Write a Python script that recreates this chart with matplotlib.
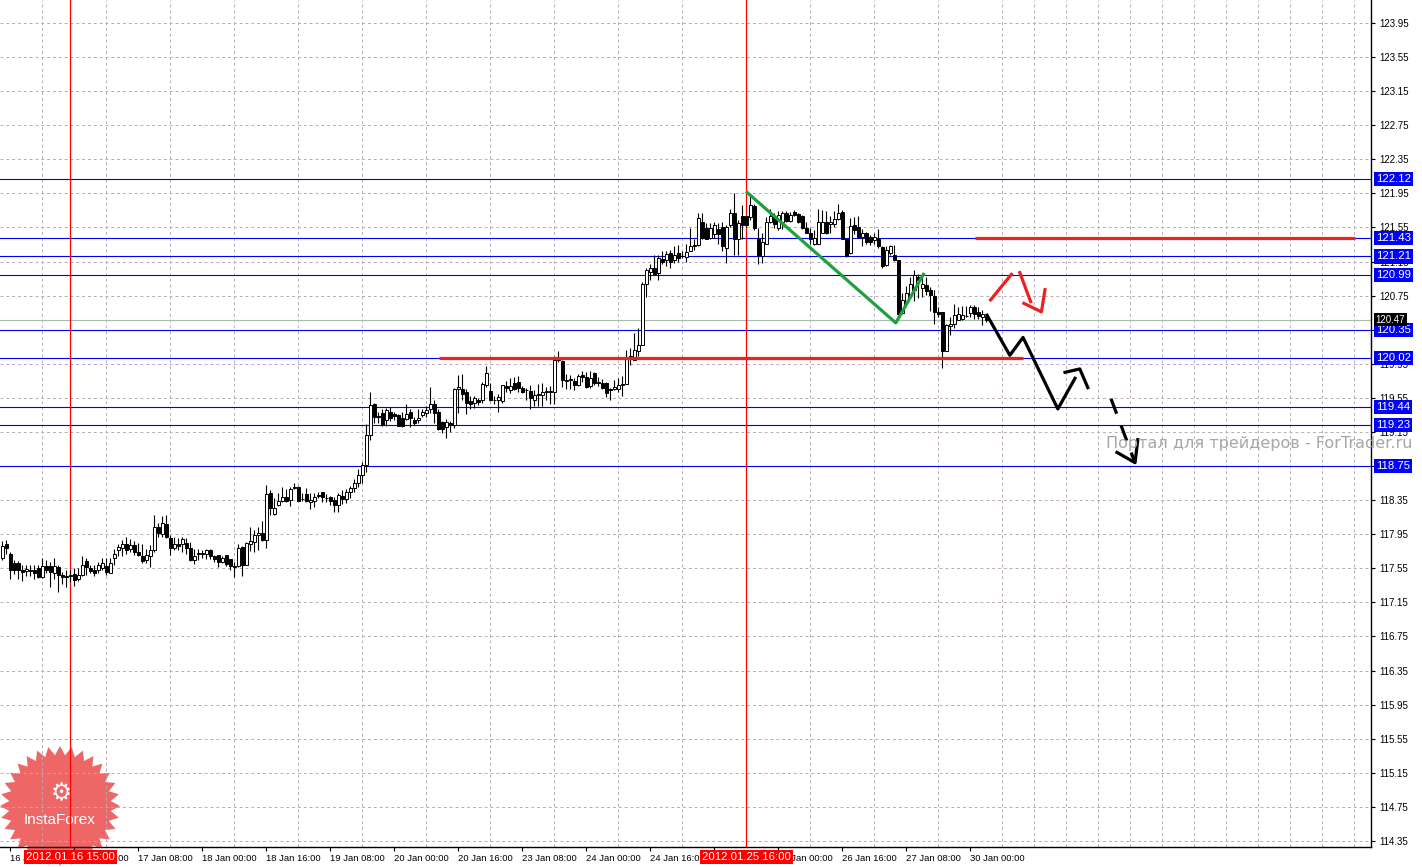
import numpy as np
import matplotlib
matplotlib.use('Agg')
import matplotlib.pyplot as plt
import matplotlib.transforms as mtransforms
from matplotlib.patches import Polygon

# H1 candles, bar 0 .. 246
opens = [
    117.67, 117.83, 117.72, 117.61, 117.61, 117.53, 117.52, 117.53, 117.53, 117.55,
    117.45, 117.58, 117.58, 117.50, 117.57, 117.47, 117.46, 117.46, 117.48, 117.42,
    117.47, 117.64, 117.55, 117.53, 117.53, 117.55, 117.58, 117.50, 117.67, 117.77,
    117.79, 117.84, 117.78, 117.82, 117.74, 117.69, 117.65, 117.70, 117.76, 118.03,
    117.95, 118.07, 117.91, 117.79, 117.84, 117.84, 117.85, 117.79, 117.65, 117.72,
    117.72, 117.72, 117.76, 117.70, 117.71, 117.62, 117.71, 117.66, 117.57, 117.58,
    117.80, 117.59, 117.84, 117.86, 117.94, 117.96, 117.88, 118.43, 118.19, 118.29,
    118.34, 118.39, 118.35, 118.49, 118.50, 118.36, 118.42, 118.33, 118.34, 118.40,
    118.44, 118.37, 118.39, 118.35, 118.29, 118.40, 118.36, 118.45, 118.49, 118.55,
    118.64, 118.76, 119.12, 119.48, 119.34, 119.37, 119.29, 119.38, 119.36, 119.35,
    119.31, 119.30, 119.39, 119.29, 119.29, 119.35, 119.37, 119.42, 119.48, 119.38,
    119.27, 119.21, 119.25, 119.23, 119.66, 119.65, 119.62, 119.51, 119.49, 119.52,
    119.52, 119.70, 119.63, 119.53, 119.53, 119.51, 119.69, 119.64, 119.72, 119.74,
    119.67, 119.64, 119.63, 119.53, 119.58, 119.58, 119.62, 119.62, 119.62, 120.00,
    119.98, 119.75, 119.76, 119.75, 119.70, 119.82, 119.79, 119.69, 119.84, 119.74,
    119.73, 119.73, 119.66, 119.66, 119.66, 119.70, 119.71, 120.01, 119.99, 120.10,
    120.17, 120.89, 121.03, 121.07, 121.02, 121.18, 121.17, 121.25, 121.17, 121.25,
    121.22, 121.20, 121.27, 121.33, 121.34, 121.61, 121.54, 121.43, 121.47, 121.53,
    121.56, 121.31, 121.58, 121.72, 121.42, 121.68, 121.68, 121.67, 121.80, 121.42,
    121.22, 121.36, 121.61, 121.67, 121.54, 121.62, 121.72, 121.63, 121.73, 121.71,
    121.68, 121.54, 121.49, 121.36, 121.36, 121.48, 121.61, 121.59, 121.59, 121.65,
    121.73, 121.42, 121.25, 121.58, 121.55, 121.44, 121.48, 121.44, 121.40, 121.41,
    121.32, 121.11, 121.25, 121.23, 121.17, 120.55, 120.67, 120.76, 120.82, 120.97,
    120.84, 120.88, 120.82, 120.75, 120.56, 120.56, 120.10, 120.39, 120.42, 120.47,
    120.48, 120.51, 120.55, 120.62, 120.56, 120.50, 120.51,
]
highs = [
    117.87, 117.88, 117.74, 117.65, 117.63, 117.59, 117.59, 117.59, 117.59, 117.59,
    117.67, 117.65, 117.62, 117.67, 117.59, 117.51, 117.53, 117.53, 117.55, 117.55,
    117.70, 117.67, 117.59, 117.59, 117.62, 117.67, 117.67, 117.67, 117.78, 117.84,
    117.88, 117.92, 117.89, 117.87, 117.85, 117.83, 117.78, 117.82, 118.17, 118.08,
    118.16, 118.17, 117.94, 117.92, 117.90, 117.92, 117.90, 117.86, 117.78, 117.78,
    117.76, 117.78, 117.78, 117.71, 117.71, 117.70, 117.71, 117.66, 117.62, 117.84,
    117.81, 117.86, 118.04, 118.00, 118.04, 118.10, 118.53, 118.47, 118.37, 118.43,
    118.50, 118.48, 118.50, 118.55, 118.52, 118.43, 118.49, 118.43, 118.43, 118.44,
    118.45, 118.42, 118.40, 118.39, 118.43, 118.47, 118.48, 118.52, 118.60, 118.72,
    118.80, 119.24, 119.62, 119.49, 119.39, 119.42, 119.43, 119.44, 119.38, 119.36,
    119.38, 119.48, 119.42, 119.33, 119.42, 119.42, 119.45, 119.68, 119.53, 119.42,
    119.28, 119.30, 119.28, 119.67, 119.82, 119.83, 119.65, 119.57, 119.57, 119.55,
    119.74, 119.92, 119.73, 119.57, 119.60, 119.70, 119.75, 119.78, 119.79, 119.81,
    119.69, 119.67, 119.70, 119.64, 119.71, 119.72, 119.68, 119.69, 120.04, 120.10,
    120.00, 119.83, 119.82, 119.78, 119.83, 119.87, 119.85, 119.86, 119.85, 119.79,
    119.77, 119.74, 119.67, 119.76, 119.78, 119.81, 120.11, 120.13, 120.31, 120.37,
    120.91, 121.07, 121.12, 121.23, 121.23, 121.27, 121.27, 121.28, 121.33, 121.34,
    121.27, 121.36, 121.54, 121.42, 121.72, 121.72, 121.60, 121.60, 121.61, 121.60,
    121.61, 121.58, 121.77, 121.96, 121.64, 121.81, 121.68, 121.93, 121.83, 121.54,
    121.48, 121.67, 121.77, 121.72, 121.74, 121.74, 121.74, 121.73, 121.75, 121.72,
    121.70, 121.62, 121.54, 121.52, 121.77, 121.76, 121.74, 121.68, 121.74, 121.83,
    121.75, 121.42, 121.66, 121.67, 121.68, 121.53, 121.50, 121.46, 121.48, 121.53,
    121.33, 121.33, 121.34, 121.34, 121.17, 120.78, 120.86, 120.97, 121.05, 121.00,
    120.99, 120.97, 120.85, 120.82, 120.62, 120.56, 120.42, 120.50, 120.65, 120.62,
    120.63, 120.63, 120.64, 120.64, 120.62, 120.58, 120.54,
]
lows = [
    117.65, 117.72, 117.43, 117.48, 117.43, 117.40, 117.46, 117.46, 117.43, 117.44,
    117.44, 117.50, 117.33, 117.43, 117.27, 117.37, 117.33, 117.39, 117.34, 117.40,
    117.46, 117.47, 117.50, 117.46, 117.50, 117.53, 117.47, 117.49, 117.59, 117.70,
    117.70, 117.72, 117.74, 117.71, 117.70, 117.61, 117.61, 117.56, 117.74, 117.92,
    117.92, 117.90, 117.71, 117.76, 117.76, 117.74, 117.72, 117.63, 117.60, 117.65,
    117.67, 117.66, 117.66, 117.62, 117.56, 117.61, 117.58, 117.53, 117.45, 117.56,
    117.46, 117.59, 117.75, 117.74, 117.76, 117.87, 117.79, 118.17, 118.17, 118.28,
    118.33, 118.33, 118.28, 118.48, 118.34, 118.34, 118.33, 118.25, 118.27, 118.37,
    118.33, 118.33, 118.29, 118.21, 118.21, 118.30, 118.32, 118.38, 118.44, 118.50,
    118.55, 118.68, 119.06, 119.25, 119.25, 119.22, 119.22, 119.28, 119.29, 119.22,
    119.21, 119.29, 119.21, 119.23, 119.25, 119.33, 119.33, 119.37, 119.25, 119.17,
    119.14, 119.08, 119.15, 119.20, 119.37, 119.53, 119.36, 119.42, 119.43, 119.47,
    119.49, 119.68, 119.51, 119.48, 119.38, 119.49, 119.62, 119.61, 119.64, 119.62,
    119.61, 119.53, 119.42, 119.45, 119.45, 119.46, 119.53, 119.48, 119.48, 119.97,
    119.68, 119.66, 119.66, 119.64, 119.69, 119.74, 119.67, 119.67, 119.70, 119.69,
    119.65, 119.56, 119.52, 119.64, 119.62, 119.57, 119.71, 119.94, 119.99, 120.04,
    120.17, 120.74, 120.93, 120.99, 120.93, 121.12, 121.10, 121.08, 121.13, 121.15,
    121.19, 121.15, 121.27, 121.29, 121.33, 121.42, 121.41, 121.42, 121.43, 121.36,
    121.27, 121.13, 121.56, 121.23, 121.23, 121.42, 121.56, 121.64, 121.52, 121.12,
    121.13, 121.36, 121.60, 121.54, 121.52, 121.53, 121.62, 121.61, 121.68, 121.60,
    121.53, 121.48, 121.36, 121.34, 121.36, 121.48, 121.47, 121.48, 121.56, 121.64,
    121.42, 121.20, 121.24, 121.47, 121.43, 121.33, 121.36, 121.34, 121.36, 121.31,
    121.07, 121.10, 121.23, 121.16, 120.52, 120.54, 120.65, 120.74, 120.69, 120.72,
    120.73, 120.76, 120.57, 120.42, 120.50, 119.90, 120.10, 120.29, 120.37, 120.46,
    120.47, 120.50, 120.50, 120.48, 120.48, 120.41, 120.44,
]
closes = [
    117.81, 117.79, 117.53, 117.53, 117.53, 117.51, 117.54, 117.52, 117.50, 117.45,
    117.58, 117.53, 117.51, 117.58, 117.47, 117.45, 117.45, 117.46, 117.41, 117.47,
    117.59, 117.56, 117.52, 117.49, 117.59, 117.61, 117.51, 117.61, 117.72, 117.80,
    117.83, 117.77, 117.82, 117.74, 117.71, 117.63, 117.71, 117.77, 118.03, 117.96,
    118.08, 117.92, 117.79, 117.83, 117.81, 117.89, 117.79, 117.65, 117.70, 117.72,
    117.72, 117.77, 117.70, 117.66, 117.62, 117.67, 117.60, 117.58, 117.57, 117.79,
    117.59, 117.85, 117.87, 117.94, 117.96, 117.88, 118.42, 118.26, 118.26, 118.34,
    118.39, 118.34, 118.48, 118.51, 118.34, 118.36, 118.34, 118.35, 118.39, 118.41,
    118.39, 118.37, 118.34, 118.29, 118.41, 118.36, 118.45, 118.49, 118.55, 118.64,
    118.76, 119.12, 119.47, 119.33, 119.33, 119.23, 119.41, 119.31, 119.34, 119.22,
    119.22, 119.36, 119.31, 119.26, 119.31, 119.38, 119.41, 119.48, 119.37, 119.18,
    119.19, 119.27, 119.23, 119.66, 119.68, 119.60, 119.49, 119.48, 119.55, 119.50,
    119.71, 119.84, 119.53, 119.52, 119.56, 119.70, 119.67, 119.69, 119.65, 119.67,
    119.62, 119.64, 119.55, 119.58, 119.59, 119.62, 119.62, 119.63, 120.00, 120.01,
    119.76, 119.75, 119.76, 119.70, 119.81, 119.79, 119.68, 119.78, 119.73, 119.72,
    119.67, 119.61, 119.64, 119.68, 119.70, 119.71, 120.03, 120.04, 120.11, 120.17,
    120.89, 121.05, 121.07, 121.00, 121.19, 121.15, 121.24, 121.15, 121.23, 121.19,
    121.21, 121.26, 121.33, 121.34, 121.66, 121.43, 121.42, 121.54, 121.58, 121.47,
    121.33, 121.56, 121.72, 121.42, 121.60, 121.58, 121.58, 121.81, 121.54, 121.23,
    121.38, 121.62, 121.68, 121.59, 121.70, 121.72, 121.63, 121.70, 121.70, 121.62,
    121.54, 121.49, 121.41, 121.43, 121.62, 121.61, 121.48, 121.61, 121.65, 121.72,
    121.42, 121.22, 121.57, 121.52, 121.44, 121.49, 121.38, 121.38, 121.44, 121.33,
    121.10, 121.28, 121.33, 121.17, 120.54, 120.70, 120.78, 120.89, 120.99, 120.93,
    120.89, 120.80, 120.76, 120.56, 120.54, 120.10, 120.40, 120.42, 120.52, 120.53,
    120.52, 120.51, 120.62, 120.54, 120.51, 120.53, 120.47,
]

# time axis labels (bar index -> text)
tick_bars = [2, 18, 34, 50, 66, 82, 98, 114, 130, 146, 162, 178, 194, 210, 226, 242]
tick_labels = ['16 Jan 00:00', '16 Jan 16:00', '17 Jan 08:00', '18 Jan 00:00',
               '18 Jan 16:00', '19 Jan 08:00', '20 Jan 00:00', '20 Jan 16:00',
               '23 Jan 08:00', '24 Jan 00:00', '24 Jan 16:00', '25 Jan 08:00',
               '26 Jan 00:00', '26 Jan 16:00', '27 Jan 08:00', '30 Jan 00:00']

levels = [122.12, 121.43, 121.21, 120.99, 120.35, 120.02, 119.44, 119.23, 118.75]
bid = 120.47

vline_bars = [17, 186]
vline_labels = ['2012.01.16 15:00', '2012.01.25 16:00']

# drawn objects (bar, price)
green_x = [186.25, 223.4, 230.3]
green_y = [121.96, 120.43, 121.00]
red_seg_1 = ([109.2, 255.2], [120.02, 120.02])
red_seg_2 = ([243.2, 338.2], [121.43, 121.43])
fc_black_x = [246.2, 251.9, 255.2, 263.9, 268.2]
fc_black_y = [120.52, 120.05, 120.26, 119.42, 119.78]
fc_hook_x = [265.7, 269.4, 271.4]
fc_hook_y = [119.85, 119.89, 119.67]
fc_dash_x = [277.2, 283.2]
fc_dash_y = [119.54, 118.79]
fc_head_x = [278.7, 283.2, 283.9]
fc_head_y = [118.91, 118.79, 119.06]
fc_red_a = ([247.1, 252.3], [120.70, 121.00])
fc_red_b = ([254.4, 257.1], [121.02, 120.68])
fc_red_head = ([255.4, 259.8, 260.7], [120.66, 120.56, 120.82])

FONT = 'Liberation Sans'
W, H = 1422, 867
fig = plt.figure(figsize=(W / 100, H / 100), dpi=100)
fig.patch.set_facecolor('white')

# logo layer (under the chart)
bg = fig.add_axes([0, 0, 1, 1], zorder=-1)
bg.set_xlim(0, W)
bg.set_ylim(H, 0)
bg.axis('off')
n_spk = 32
ang = np.linspace(0, 2 * np.pi, 2 * n_spk, endpoint=False)
rad = np.where(np.arange(2 * n_spk) % 2 == 0, 60, 51)
star = Polygon(np.column_stack([60 + rad * np.cos(ang), 806 + rad * np.sin(ang)]),
               closed=True, facecolor='#ec5656', edgecolor='none', alpha=0.9)
bg.add_patch(star)
bg.text(61, 793, '\u2699', color='white', fontsize=17, ha='center', va='center')
bg.text(60, 820, 'InstaForex', color='white', fontsize=11, family=FONT,
        ha='center', va='center')

ax = fig.add_axes([0, 20 / H, 1371 / W, 847 / H])
ax.set_facecolor('none')
ax.set_xlim(-0.575, 342.2)
ax.set_ylim(114.279, 124.22)

# grid and ticks
price_ticks = np.arange(114.35, 124.0, 0.4)
ax.set_xticks(np.arange(2, 343, 8), minor=True)
ax.set_xticks(tick_bars)
ax.set_xticklabels(tick_labels, family=FONT)
for lbl in ax.get_xticklabels():
    lbl.set_horizontalalignment('left')
ax.set_yticks(price_ticks)
# labels that sit exactly under a level box are shown by the box itself
ax.set_yticklabels(['' if any(abs(v - lv) < 0.005 for lv in levels) else '%.2f' % v
                    for v in price_ticks], family=FONT)
ax.grid(which='minor', axis='x', color='#b8aab8', linestyle=(0, (3, 3)), lw=0.7)
ax.grid(which='major', axis='y', color='#b8aab8', linestyle=(0, (3, 3)), lw=0.7)
ax.yaxis.tick_right()
ax.tick_params(axis='y', direction='out', length=3, labelsize=7, pad=3, colors='black')
ax.tick_params(axis='x', which='major', direction='out', length=3, labelsize=6.8, pad=2)
ax.tick_params(axis='x', which='minor', length=0)
for s in ['top', 'left']:
    ax.spines[s].set_visible(False)
ax.spines['right'].set_linewidth(1.0)
ax.spines['bottom'].set_linewidth(1.0)

# levels
for lv in levels:
    ax.axhline(lv, color='#0000ee', lw=0.8, zorder=2)
ax.axhline(bid, color='#a8bca8', lw=0.8, zorder=2)

for vb in vline_bars:
    ax.axvline(vb, color='#ff0000', lw=0.9, zorder=2)

# candles
o = np.array(opens)
h = np.array(highs)
l = np.array(lows)
c = np.array(closes)
x = np.arange(len(o))
up = c >= o
ax.vlines(x, l, h, color='black', lw=0.8, zorder=3)
lo = np.minimum(o, c)
bh = np.maximum(np.abs(c - o), 0.006)
ax.bar(x[up], bh[up], bottom=lo[up], width=0.7, facecolor='white',
       edgecolor='black', linewidth=0.7, zorder=4)
ax.bar(x[~up], bh[~up], bottom=lo[~up], width=0.7, facecolor='black',
       edgecolor='black', linewidth=0.7, zorder=4)

# drawings
ax.plot(*red_seg_1, color='#f02020', lw=2.3, zorder=5, solid_capstyle='butt')
ax.plot(*red_seg_2, color='#f02020', lw=2.3, zorder=5, solid_capstyle='butt')
ax.plot(green_x, green_y, color='#1fa040', lw=2.3, zorder=5)
ax.plot(fc_black_x, fc_black_y, color='black', lw=2.3, zorder=5)
ax.plot(fc_hook_x, fc_hook_y, color='black', lw=2.3, zorder=5)
ax.plot(fc_dash_x, fc_dash_y, color='black', lw=2.3, zorder=5, linestyle=(0, (5, 4)))
ax.plot(fc_head_x, fc_head_y, color='black', lw=2.3, zorder=5)
ax.plot(*fc_red_a, color='#f02020', lw=2.3, zorder=5)
ax.plot(*fc_red_b, color='#f02020', lw=2.3, zorder=5)
ax.plot(*fc_red_head, color='#f02020', lw=2.3, zorder=5)

# price labels on the right
tr_y = mtransforms.blended_transform_factory(ax.transAxes, ax.transData)
for lv in levels:
    ax.text(1.0035, lv, '%.2f' % lv, transform=tr_y, color='white', fontsize=8.2,
            family=FONT, ha='left', va='center', clip_on=False, zorder=10,
            bbox=dict(facecolor='#0000ff', edgecolor='none', pad=1.5))
ax.text(1.0035, bid, '%.2f' % bid, transform=tr_y, color='white', fontsize=7,
        family=FONT, ha='left', va='center', clip_on=False, zorder=10,
        bbox=dict(facecolor='black', edgecolor='none', pad=1.0))

# time labels of the vertical lines
tr_x = mtransforms.blended_transform_factory(ax.transData, ax.transAxes)
for vb, txt in zip(vline_bars, vline_labels):
    ax.text(vb, -0.0115, txt, transform=tr_x, color='white', fontsize=8.2,
            family=FONT, ha='center', va='center', clip_on=False, zorder=10,
            bbox=dict(facecolor='#ff0000', edgecolor='none', pad=1.3))

fig.text(1106 / W, 1 - 444 / H, 'Портал для трейдеров - ForTrader.ru',
         color='#a6a6a6', fontsize=11.5, ha='left', va='center', zorder=20)

fig.savefig('out.png', dpi=100, facecolor='white')
